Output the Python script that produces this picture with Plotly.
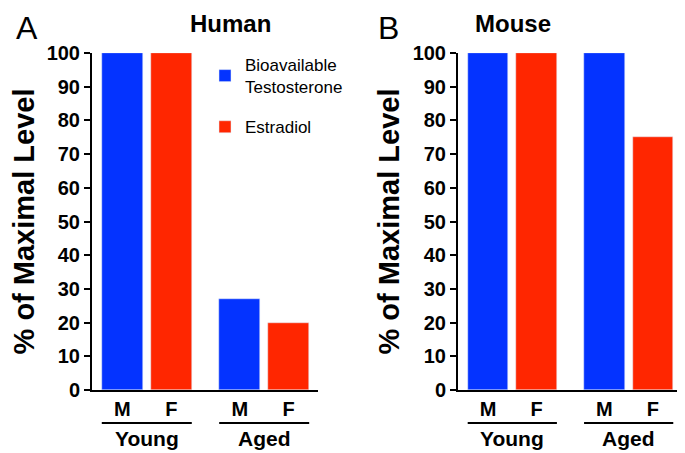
import plotly.graph_objects as go

# data
sexes = ["M", "F"]
ages = ["Young", "Aged"]
human_testosterone = [100, 27]
human_estradiol = [100, 20]
mouse_testosterone = [100, 100]
mouse_estradiol = [100, 75]

BLUE = "#0433FF"
RED = "#FF2600"
FONT = "Liberation Sans"

# layout of the bar slots (M, F within each age group)
group_step = 2.4
bar_w = 0.84
m_pos = [i * group_step for i in range(len(ages))]
f_pos = [p + 1 for p in m_pos]

fig = go.Figure()

panels = [
    ("x", "y", human_testosterone, human_estradiol, True),
    ("x2", "y2", mouse_testosterone, mouse_estradiol, False),
]
for xa, ya, testo, estra, show in panels:
    fig.add_trace(go.Bar(x=m_pos, y=testo, width=bar_w, marker_color=BLUE,
                         name="Bioavailable<br>Testosterone", xaxis=xa, yaxis=ya,
                         showlegend=show, legendgroup="t"))
    fig.add_trace(go.Bar(x=f_pos, y=estra, width=bar_w, marker_color=RED,
                         name="Estradiol", xaxis=xa, yaxis=ya,
                         showlegend=show, legendgroup="e"))

# the page body has an 8px margin, so the figure is shrunk by that much
PAD = 8
W, H = 685 - PAD, 453 - PAD


def fx(px):
    return (px - PAD) / W


def fy(py):
    return 1 - (py - PAD) / H


x_range = [-0.62, 4.0]
tickvals = sorted(m_pos + f_pos)
ticktext = [sexes[i % 2] for i in range(len(tickvals))]

xaxis_common = dict(
    range=x_range, showline=True, linewidth=2, linecolor="black",
    showgrid=False, zeroline=False, ticks="", tickvals=tickvals, ticktext=ticktext,
    tickfont=dict(family=FONT, size=20, color="black", weight="bold"),
    fixedrange=True,
)
yaxis_common = dict(
    range=[0, 100], dtick=10, showline=True, linewidth=2, linecolor="black",
    showgrid=False, zeroline=False, ticks="outside", ticklen=6, tickwidth=2,
    tickcolor="black", tickfont=dict(family=FONT, size=20, color="black", weight="bold"),
    domain=[fy(390), fy(53)],
)
title_font = dict(family=FONT, size=29, color="black", weight="bold")

fig.update_layout(
    width=W, height=H,
    margin=dict(l=0, r=0, t=0, b=0, autoexpand=False),
    paper_bgcolor="white", plot_bgcolor="white",
    bargap=0,
    xaxis=dict(domain=[fx(92), fx(318)], anchor="y", **xaxis_common),
    xaxis2=dict(domain=[fx(458), fx(682)], anchor="y2", **xaxis_common),
    yaxis=dict(anchor="x", title=dict(text="% of Maximal Level", standoff=28, font=title_font),
               **yaxis_common),
    yaxis2=dict(anchor="x2", title=dict(text="% of Maximal Level", standoff=4, font=title_font),
                **yaxis_common),
    legend=dict(x=fx(205), y=fy(47), xanchor="left", yanchor="top",
                font=dict(family=FONT, size=17, color="black"),
                tracegroupgap=15, bgcolor="rgba(0,0,0,0)"),
    font=dict(family=FONT, color="black"),
)

annotations = []
shapes = []
for xa in ["x", "x2"]:
    for i, age in enumerate(ages):
        x0 = m_pos[i] - bar_w / 2
        x1 = f_pos[i] + bar_w / 2
        annotations.append(dict(text=age, x=(x0 + x1) / 2, xref=xa, y=fy(438),
                                yref="paper", yanchor="middle", showarrow=False,
                                font=dict(family=FONT, size=21, color="black", weight="bold")))
        shapes.append(dict(type="line", xref=xa, yref="paper", x0=x0, x1=x1,
                           y0=fy(423), y1=fy(423),
                           line=dict(color="black", width=2)))

for text, x in [("Human", 188), ("Mouse", 553)]:
    annotations.append(dict(text=text, x=fx(x), y=fy(24), xref="paper", yref="paper",
                            yanchor="middle", showarrow=False,
                            font=dict(family=FONT, size=24, color="black", weight="bold")))
for text, x in [("A", 14), ("B", 389)]:
    annotations.append(dict(text=text, x=fx(x), y=fy(8), xref="paper", yref="paper",
                            yanchor="top", showarrow=False,
                            font=dict(family=FONT, size=32, color="black")))

fig.update_layout(annotations=annotations, shapes=shapes)

fig.write_html("out.html")
